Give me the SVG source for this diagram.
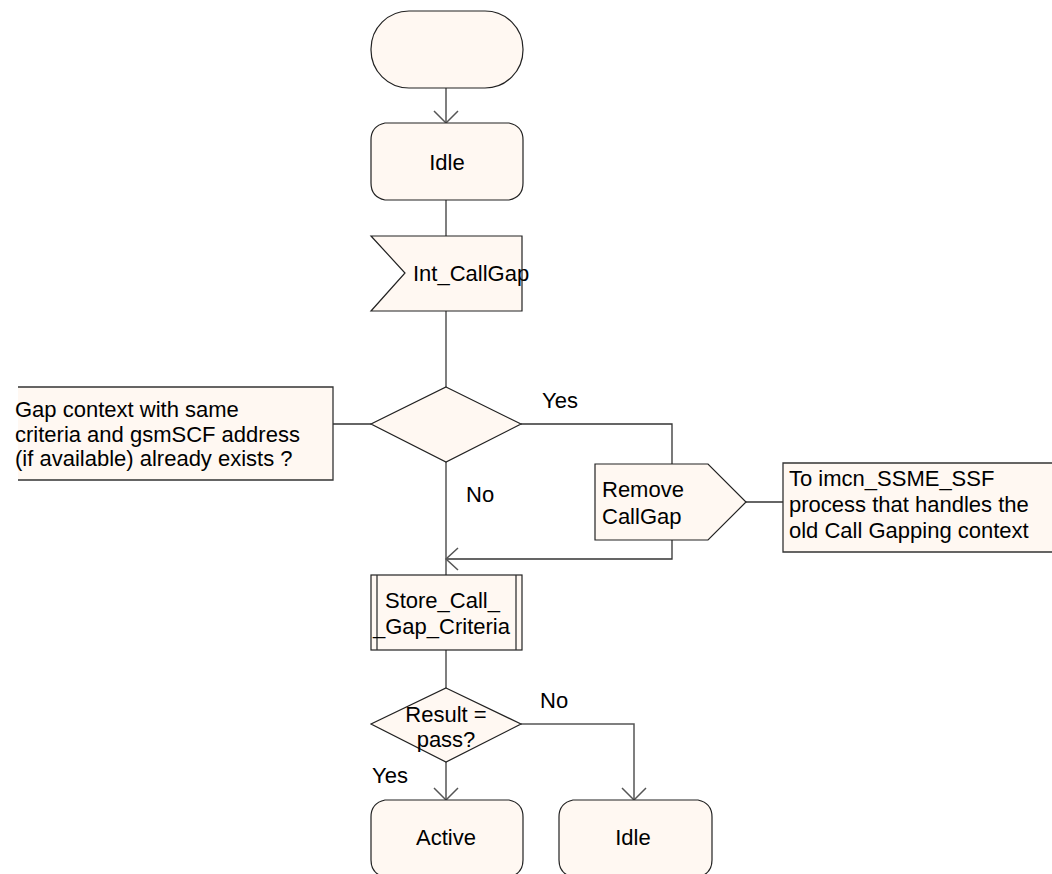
<svg xmlns="http://www.w3.org/2000/svg" width="1052" height="874" viewBox="0 0 1052 874">
<style>
.s{fill:#fff8f2;stroke:#222;stroke-width:1.2}
.c{fill:none;stroke:#555;stroke-width:1.5}
.b{fill:none;stroke:#333;stroke-width:1.3}
.t{font-family:"Liberation Sans",Arial,sans-serif;font-size:22px;fill:#000}
.m{text-anchor:middle}
</style>
<rect width="1052" height="874" fill="#fff"/>
<g id="connectors">
<line class="c" x1="446" y1="88" x2="446" y2="123"/>
<polyline class="c" points="434,111 446,123 458,111"/>
<line class="c" x1="446" y1="200" x2="446" y2="236"/>
<line class="c" x1="446" y1="311" x2="446" y2="387"/>
<line class="b" x1="333" y1="424" x2="371" y2="424"/>
<polyline class="b" points="521,424 672,424 672,464"/>
<line class="b" x1="746" y1="502" x2="783" y2="502"/>
<polyline class="b" points="672,540 672,559 446,559"/>
<polyline class="c" points="458,548 446,559 458,570"/>
<line class="c" x1="446" y1="462" x2="446" y2="575"/>
<line class="c" x1="446" y1="650" x2="446" y2="688"/>
<polyline class="c" points="521,724 634,724 634,800"/>
<polyline class="c" points="622,788 634,800 646,788"/>
<line class="c" x1="446" y1="762" x2="446" y2="800"/>
<polyline class="c" points="434,788 446,800 458,788"/>
<text class="t" x="542" y="408">Yes</text>
<text class="t" x="466" y="502">No</text>
<text class="t" x="540" y="708">No</text>
<text class="t" x="372" y="783">Yes</text>
</g>
<g id="start">
<rect class="s" x="371" y="11" width="152" height="77" rx="38" ry="38"/>
</g>
<g id="idle1">
<path class="s" d="M385,123 H509 Q523,126 523,140 V183 Q523,197 509,200 H385 Q371,197 371,183 V140 Q371,126 385,123 Z"/>
<text class="t m" x="447" y="170">Idle</text>
</g>
<g id="input">
<polygon class="s" points="371,236 522,236 522,311 371,311 405,273"/>
<text class="t" x="413" y="281">Int_CallGap</text>
</g>
<g id="decision1">
<polygon class="s" points="446,387 521,424 446,462 371,424"/>
</g>
<g id="comment1">
<rect x="18" y="387" width="315" height="93" fill="#fff8f2"/>
<path class="b" d="M18,387 H333 V480 H18"/>
<text class="t" x="15" y="417">Gap context with same</text>
<text class="t" x="15" y="442">criteria and gsmSCF address</text>
<text class="t" x="15" y="466">(if available) already exists ?</text>
</g>
<g id="output">
<polygon class="s" points="595,464 708,464 746,502 708,540 595,540"/>
<text class="t" x="602" y="497">Remove</text>
<text class="t" x="602" y="524">CallGap</text>
</g>
<g id="comment2">
<rect x="783" y="463" width="269" height="89" fill="#fff8f2"/>
<path class="b" d="M1052,463 H783 V552 H1052"/>
<text class="t" x="789" y="486">To imcn_SSME_SSF</text>
<text class="t" x="789" y="512">process that handles the</text>
<text class="t" x="789" y="538">old Call Gapping context</text>
</g>
<g id="procedure">
<rect class="s" x="371" y="575" width="151" height="75"/>
<line class="b" x1="377" y1="575" x2="377" y2="650"/>
<line class="b" x1="516" y1="575" x2="516" y2="650"/>
<text class="t" x="385" y="608">Store_Call_</text>
<text class="t" x="373" y="634">_Gap_Criteria</text>
</g>
<g id="decision2">
<polygon class="s" points="446,688 521,724 446,762 371,724"/>
<text class="t m" x="446" y="722">Result =</text>
<text class="t m" x="446" y="747">pass?</text>
</g>
<g id="active">
<path class="s" d="M385,800 H509 Q523,803 523,817 V860 Q523,874 509,877 H385 Q371,874 371,860 V817 Q371,803 385,800 Z"/>
<text class="t m" x="446" y="845">Active</text>
</g>
<g id="idle2">
<path class="s" d="M573,800 H698 Q712,803 712,817 V860 Q712,874 698,877 H573 Q559,874 559,860 V817 Q559,803 573,800 Z"/>
<text class="t m" x="633" y="845">Idle</text>
</g>
</svg>
